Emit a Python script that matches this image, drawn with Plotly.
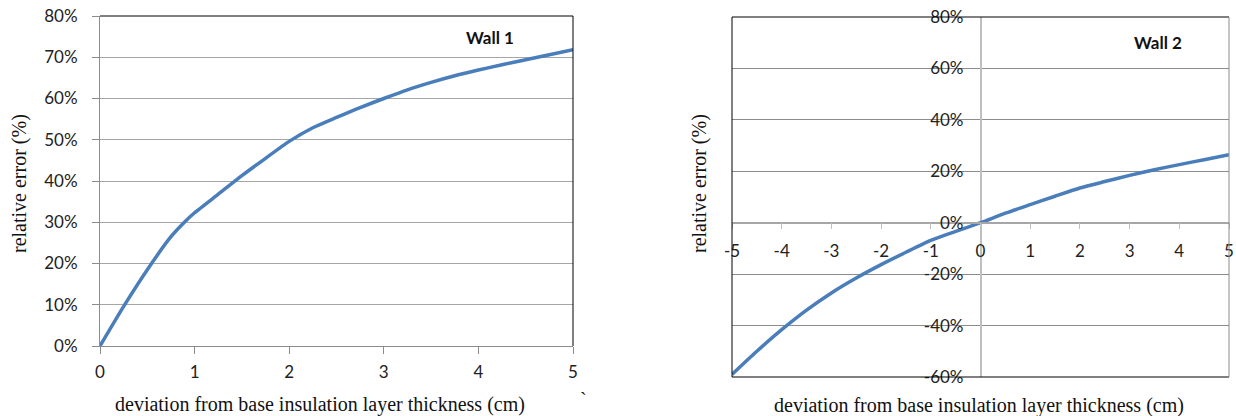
import plotly.graph_objects as go

W, H = 1236, 416

# ---- data ----
wall1_x = [0, 0.25, 0.5, 0.75, 0.9, 1.0, 1.25, 1.5, 1.75, 2.0, 2.25, 2.5, 2.75,
           3.0, 3.25, 3.5, 3.75, 4.0, 4.25, 4.5, 4.75, 5.0]
wall1_y = [0.0, 9.6, 18.5, 26.5, 30.2, 32.3, 36.8, 41.3, 45.5, 49.6, 52.9, 55.4, 57.8,
           60.0, 62.1, 63.9, 65.5, 66.9, 68.2, 69.4, 70.6, 71.8]

wall2_x = [-5, -4.5, -4, -3.5, -3, -2.5, -2, -1.5, -1, -0.5, 0, 0.5, 1, 1.5, 2,
           2.5, 3, 3.5, 4, 4.5, 5]
wall2_y = [-59.0, -50.0, -41.6, -34.0, -27.3, -21.5, -16.3, -11.5, -6.9, -3.4, 0.0,
           3.7, 7.0, 10.3, 13.5, 16.0, 18.4, 20.6, 22.6, 24.5, 26.4]

x1_ticks = [0, 1, 2, 3, 4, 5]
y1_ticks = [0, 10, 20, 30, 40, 50, 60, 70, 80]
y1_text = ["0%", "10%", "20%", "30%", "40%", "50%", "60%", "70%", "80%"]

x2_ticks = [-5, -4, -3, -2, -1, 0, 1, 2, 3, 4, 5]
x2_text = ["-5", "-4", "-3", "-2", "-1", "0", "1", "2", "3", "4", "5"]
y2_ticks = [-60, -40, -20, 0, 20, 40, 60, 80]
y2_text = ["-60%", "-40%", "-20%", "0%", "20%", "40%", "60%", "80%"]

x_title = "deviation from base insulation layer thickness (cm)"
y_title = "relative error (%)"

# ---- layout geometry (pixels) ----
def px_dom_x(a, b):
    return [a / W, b / W]

def px_dom_y(top, bottom):
    return [1 - bottom / H, 1 - top / H]

x1_dom = px_dom_x(100, 573)
y1_dom = px_dom_y(16, 346)
x2_dom = px_dom_x(732, 1229)
y2_dom = px_dom_y(17, 377)
x1_rng = [0, 5]
y1_rng = [0, 80]
x2_rng = [-5, 5]
y2_rng = [-60, 80]

def to_paper(v, dom, rng):
    return dom[0] + (v - rng[0]) / (rng[1] - rng[0]) * (dom[1] - dom[0])

LINE = "#4A7EBB"
TICKFONT = dict(family="Lato, Open Sans, sans-serif", size=17, color="#222222")
SERIF = dict(family="Liberation Serif, Times New Roman, serif", size=20, color="#111111")

fig = go.Figure()
fig.add_trace(go.Scatter(x=wall1_x, y=wall1_y, mode="lines", xaxis="x", yaxis="y",
                         line=dict(color=LINE, width=3.5, shape="spline", smoothing=0.6),
                         showlegend=False, hoverinfo="skip"))
fig.add_trace(go.Scatter(x=wall2_x, y=wall2_y, mode="lines", xaxis="x2", yaxis="y2",
                         line=dict(color=LINE, width=3.5, shape="spline", smoothing=0.6),
                         showlegend=False, hoverinfo="skip"))

fig.update_layout(
    width=W, height=H, margin=dict(l=0, r=0, t=0, b=0, autoexpand=False),
    paper_bgcolor="white", plot_bgcolor="white",
    xaxis=dict(domain=x1_dom, range=x1_rng, anchor="y", tickvals=x1_ticks,
               showgrid=False, zeroline=False, showline=True, linecolor="#8C8C8C",
               linewidth=1, ticks="outside", ticklen=7, tickcolor="#8C8C8C",
               tickfont=TICKFONT, ticklabelstandoff=4, automargin=False),
    yaxis=dict(domain=y1_dom, range=y1_rng, anchor="x", tickvals=y1_ticks,
               ticktext=y1_text, showgrid=True, gridcolor="#A6A6A6", gridwidth=1,
               zeroline=False, showline=True, linecolor="#8C8C8C", linewidth=1,
               ticks="outside", ticklen=7, tickcolor="#8C8C8C", tickfont=TICKFONT,
               ticklabelstandoff=11, automargin=False),
    xaxis2=dict(domain=x2_dom, range=x2_rng, anchor="free",
                position=to_paper(0, y2_dom, y2_rng), tickvals=x2_ticks,
                ticktext=x2_text, showgrid=False, zeroline=True,
                zerolinecolor="#BFBFBF", zerolinewidth=1.5,
                showline=True, linecolor="#A6A6A6", linewidth=1.5, ticks="outside",
                ticklen=6, tickcolor="#BFBFBF", tickfont=TICKFONT,
                ticklabelstandoff=7, automargin=False),
    yaxis2=dict(domain=y2_dom, range=y2_rng, anchor="free",
                position=to_paper(0, x2_dom, x2_rng), tickvals=y2_ticks,
                ticktext=y2_text, showgrid=True, gridcolor="#8C8C8C", gridwidth=1,
                zeroline=False, showline=False, ticks="", tickfont=TICKFONT,
                ticklabelstandoff=17, automargin=False),
)

shapes = [
    # left chart: top and right border
    dict(type="line", xref="x domain", yref="y domain", x0=0, x1=1, y0=1, y1=1,
         line=dict(color="black", width=1)),
    dict(type="line", xref="x domain", yref="y domain", x0=1, x1=1, y0=0, y1=1,
         line=dict(color="black", width=1)),
    # right chart border
    dict(type="line", xref="x2 domain", yref="y2 domain", x0=0, x1=1, y0=1, y1=1,
         line=dict(color="black", width=1)),
    dict(type="line", xref="x2 domain", yref="y2 domain", x0=0, x1=1, y0=0, y1=0,
         line=dict(color="black", width=1)),
    dict(type="line", xref="x2 domain", yref="y2 domain", x0=0, x1=0, y0=0, y1=1,
         line=dict(color="black", width=1)),
    dict(type="line", xref="x2 domain", yref="y2 domain", x0=1, x1=1, y0=0, y1=1,
         line=dict(color="#8C8C8C", width=1)),
]
fig.update_layout(shapes=shapes)

def ann(text, px, py, font, angle=0):
    return dict(text=text, xref="paper", yref="paper", x=px / W, y=1 - py / H,
                xanchor="center", yanchor="middle", showarrow=False,
                textangle=angle, font=font)

BOLD = dict(family="Lato, sans-serif", size=17, color="#111111")
annotations = [
    ann("<b>Wall 1</b>", 490, 37, BOLD),
    ann("<b>Wall 2</b>", 1158, 43, BOLD),
    ann(x_title, 320, 404, SERIF),
    ann(x_title, 979, 405, SERIF),
    ann(y_title, 19, 184, SERIF, -90),
    ann(y_title, 699, 184, SERIF, -90),
    ann("`", 583, 400, SERIF),
]
fig.update_layout(annotations=annotations)

fig.write_html("out.html", config={"displayModeBar": False},
               post_script="document.body.style.margin='0px';")
